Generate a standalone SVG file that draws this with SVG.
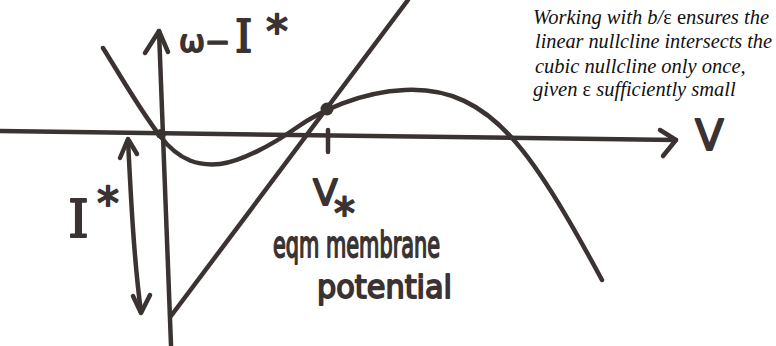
<svg xmlns="http://www.w3.org/2000/svg" width="776" height="346" viewBox="0 0 776 346">
<style>
.ink{fill:none;stroke:#3b3232;stroke-width:4.5;stroke-linecap:round;stroke-linejoin:round}
.dot{fill:#3b3232}
.hand{font-family:"DejaVu Sans",sans-serif;fill:#3b3232;stroke:#3b3232;stroke-width:1.8;stroke-linejoin:round}
.hserif{font-family:"DejaVu Serif",serif}
.note{font-family:"Liberation Serif","Times New Roman",serif;font-style:italic;font-size:20.5px;fill:#111}
.up{font-style:normal}
</style>
<rect width="776" height="346" fill="#fff"/>
<g id="connectors">
  <g id="v-axis">
    <path class="ink" d="M171,345 L159,31"/>
    <path class="ink" d="M145,53 L159,31 L168,52"/>
  </g>
  <g id="h-axis">
    <path class="ink" d="M0,131 L676,140"/>
    <path class="ink" d="M660,130 L676,140 L663,156"/>
  </g>
  <g id="cubic-nullcline">
    <path class="ink" d="M103,48 C120,75 140,110 160,136 S200,166 220,164 S272,145 296,128 S360,92 405,90 S482,105 512,138 S575,230 602,280"/>
  </g>
  <g id="linear-nullcline">
    <path class="ink" d="M171,316 L408,0"/>
  </g>
  <g id="tick">
    <path class="ink" d="M328,130 L328,152"/>
  </g>
  <g id="istar-arrow">
    <path class="ink" d="M128,140 C131,200 134,260 141,312"/>
    <path class="ink" d="M120,158 L128,139 L137,154"/>
    <path class="ink" d="M133,296 L141,313 L150,295"/>
  </g>
</g>
<g id="origin"><circle class="dot" cx="161" cy="134" r="5"/></g>
<g id="equilibrium"><circle class="dot" cx="327" cy="109" r="6.5"/></g>
<g id="label-w-istar">
  <text class="hand" x="179" y="52" font-size="31">ω<tspan x="205" font-size="30">−</tspan><tspan class="hserif" x="235" font-size="44">I</tspan><tspan x="266" y="47" font-size="44">*</tspan></text>
</g>
<g id="label-V">
  <text class="hand" x="695" y="150" font-size="42">V</text>
</g>
<g id="label-istar">
  <text class="hand" x="68" y="237" font-size="53"><tspan class="hserif">I</tspan><tspan x="97" y="219" font-size="44">*</tspan></text>
</g>
<g id="label-vstar">
  <text class="hand" x="313" y="205" font-size="36">V<tspan x="334" y="228" font-size="42">*</tspan><tspan x="273" y="257" font-size="35" textLength="167" lengthAdjust="spacingAndGlyphs">eqm membrane</tspan><tspan x="317" y="298" font-size="32" textLength="135" lengthAdjust="spacingAndGlyphs">potential</tspan></text>
</g>
<g id="note">
  <text class="note" x="533" y="23.5">Working with b/<tspan class="up">ε e</tspan>nsures the</text>
  <text class="note" x="535" y="48" textLength="237" lengthAdjust="spacingAndGlyphs">linear nullcline intersects the</text>
  <text class="note" x="535" y="72.5">cubic nullcline only once,</text>
  <text class="note" x="533" y="96">given <tspan class="up">ε</tspan> sufficiently small</text>
</g>
</svg>
